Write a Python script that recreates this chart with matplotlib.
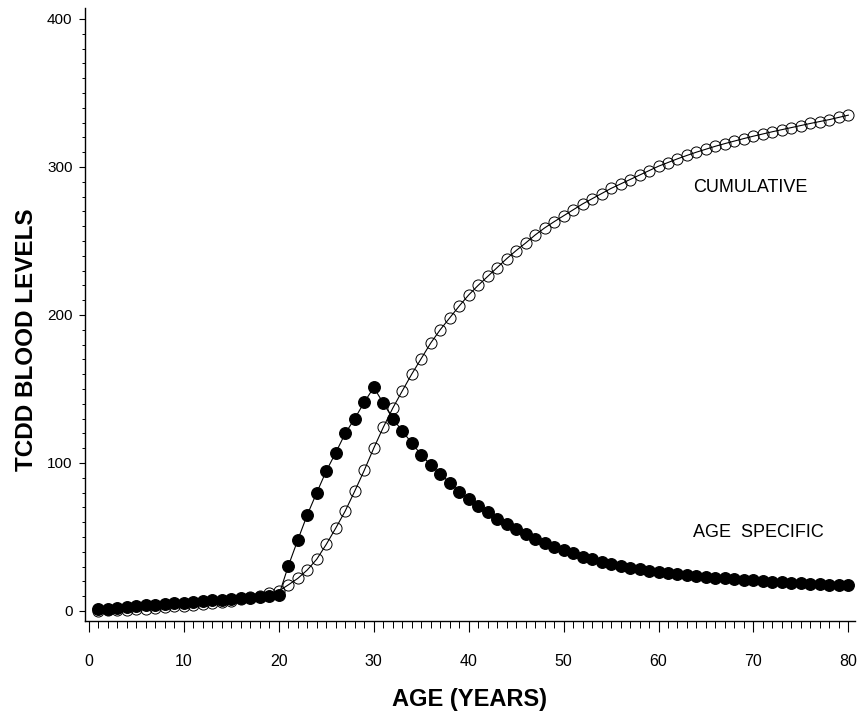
import matplotlib
matplotlib.use("Agg")
import matplotlib.pyplot as plt
from matplotlib.ticker import MultipleLocator

ages = list(range(1, 81))

age_specific = [
    1.0, 1.6, 2.2, 2.7, 3.2, 3.7, 4.2, 4.7, 5.2, 5.7,
    6.2, 6.7, 7.2, 7.6, 8.1, 8.5, 9.0, 9.5, 10.0, 10.6,
    30.4, 48.0, 65.0, 80.0, 94.6, 107.0, 120.0, 130.0, 141.0, 151.0,
    140.5, 130.0, 121.6, 113.5, 105.5, 98.6, 92.6, 86.7, 80.6, 75.5,
    71.0, 66.7, 62.2, 58.6, 55.2, 51.8, 48.6, 45.7, 43.4, 41.2,
    39.0, 36.7, 35.1, 33.3, 31.8, 30.4, 29.2, 28.2, 27.3, 26.5,
    25.7, 25.0, 24.3, 23.7, 23.1, 22.5, 22.0, 21.5, 21.0, 20.6,
    20.2, 19.8, 19.4, 19.0, 18.7, 18.4, 18.1, 17.8, 17.5, 17.2,
]

cumulative = [
    0.1, 0.3, 0.6, 0.9, 1.2, 1.6, 2.0, 2.5, 3.0, 3.5,
    4.1, 4.7, 5.4, 6.1, 7.0, 8.0, 9.1, 10.4, 11.9, 13.5,
    17.6, 22.0, 27.7, 35.0, 45.0, 56.0, 67.6, 81.0, 95.0, 110.0,
    124.0, 137.0, 148.6, 160.0, 170.5, 181.0, 190.0, 198.0, 206.0, 213.5,
    220.0, 226.0, 232.0, 238.0, 243.5, 248.6, 254.0, 258.8, 263.0, 267.0,
    271.0, 275.0, 278.5, 282.0, 285.5, 288.5, 291.5, 294.5, 297.5, 300.5,
    303.0, 305.5, 307.8, 310.0, 312.0, 314.0, 315.8, 317.5, 319.2, 320.8,
    322.3, 323.8, 325.2, 326.6, 328.0, 329.4, 330.7, 332.0, 333.5, 335.0,
]

x_ticks = [0, 10, 20, 30, 40, 50, 60, 70, 80]
y_ticks = [0, 100, 200, 300, 400]

plt.rcParams['font.family'] = ['Liberation Sans', 'DejaVu Sans']

fig = plt.figure(figsize=(8.59, 7.13), dpi=100)
ax = fig.add_axes([85/859, 1 - 621/713, (855 - 85)/859, (621 - 8)/713])

ax.plot(ages, cumulative, color='black', lw=0.8, marker='o', markersize=8.0,
        markerfacecolor='none', markeredgecolor='black', markeredgewidth=0.7, zorder=2)
ax.plot(ages, age_specific, color='black', lw=0.8, marker='o', markersize=8.3,
        markerfacecolor='black', markeredgecolor='black', zorder=3)

ax.set_xlim(-0.42, 80.7)
ax.set_ylim(-6.8, 407.4)

ax.spines['top'].set_visible(False)
ax.spines['right'].set_visible(False)
ax.spines['left'].set_linewidth(1.0)
ax.spines['bottom'].set_linewidth(1.0)

ax.set_xticks(x_ticks)
ax.set_xticklabels([str(v) for v in x_ticks])
ax.xaxis.set_minor_locator(MultipleLocator(1))
ax.set_yticks(y_ticks)
ax.set_yticklabels([str(v) for v in y_ticks])
ax.yaxis.set_minor_locator(MultipleLocator(10))

ax.tick_params(axis='x', which='major', direction='out', length=8, width=0.8,
               pad=16, labelsize=11.5)
ax.tick_params(axis='x', which='minor', direction='out', length=5, width=0.7)
ax.tick_params(axis='y', which='major', direction='out', length=4, width=0.8,
               pad=5, labelsize=11)
ax.tick_params(axis='y', which='minor', direction='out', length=2, width=0.7)

ax.set_xlabel('AGE (YEARS)', fontsize=17, fontweight='bold')
ax.xaxis.set_label_coords(0.5, (621 - 688) / 613)
ax.set_ylabel('TCDD BLOOD LEVELS', fontsize=17.5, fontweight='bold')
ax.yaxis.set_label_coords((38 - 85) / 770, (621 - 340) / 613)

ax.text(63.6, 286, 'CUMULATIVE', fontsize=13, ha='left', va='center')
ax.text(63.6, 53, 'AGE  SPECIFIC', fontsize=13, ha='left', va='center')

fig.savefig('out.png', dpi=100)
